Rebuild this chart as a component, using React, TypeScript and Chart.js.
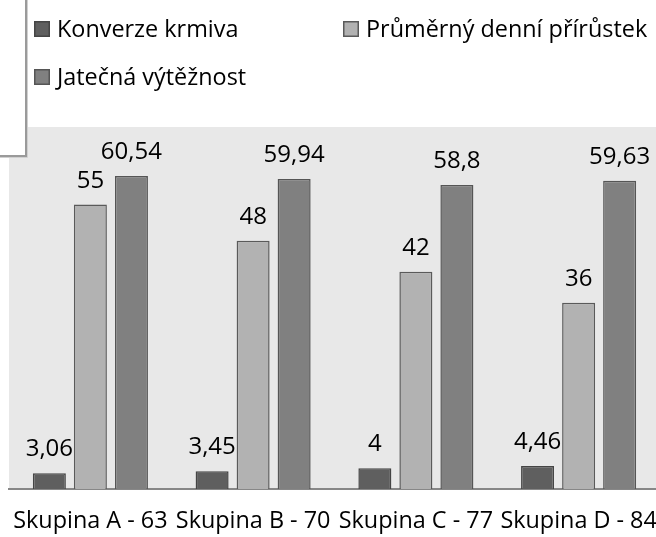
import React, { useEffect, useRef } from "react";
import { Chart, registerables } from "chart.js";

Chart.register(...registerables);

const categories = ["Skupina A - 63", "Skupina B - 70", "Skupina C - 77", "Skupina D - 84"];
const seriesNames = ["Konverze krmiva", "Průměrný denní přírůstek", "Jatečná výtěžnost"];
const konverzeKrmiva = [3.06, 3.45, 4, 4.46];
const denniPrirustek = [55, 48, 42, 36];
const jatecnaVyteznost = [60.54, 59.94, 58.8, 59.63];
const fills = ["#5f5f5f", "#b2b2b2", "#808080"];
const borders = ["#454545", "#5a5a5a", "#555555"];

const FONT = "'Open Sans', sans-serif";
const FS = 24;
const FS_TEXT = 23.4;

const fmt = (v: number) => String(v).replace(".", ",");

const decorPlugin = {
  id: "decor",
  beforeDraw(chart: any) {
    const { ctx, chartArea } = chart;
    ctx.save();
    ctx.fillStyle = "#e8e8e8";
    ctx.fillRect(chartArea.left, chartArea.top, chartArea.right - chartArea.left, chartArea.bottom - chartArea.top);
    ctx.restore();
  },
  afterDatasetsDraw(chart: any) {
    const { ctx } = chart;
    ctx.save();
    ctx.font = `${FS}px ${FONT}`;
    ctx.fillStyle = "#000";
    ctx.textAlign = "center";
    ctx.textBaseline = "alphabetic";
    chart.data.datasets.forEach((ds: any, i: number) => {
      const meta = chart.getDatasetMeta(i);
      meta.data.forEach((bar: any, j: number) => {
        ctx.fillText(fmt(ds.data[j]), bar.x, bar.y - 17);
      });
    });
    ctx.restore();
  },
  afterDraw(chart: any) {
    const { ctx } = chart;
    ctx.save();
    // legend frame (partially visible)
    ctx.fillStyle = "#ffffff";
    ctx.fillRect(0, 0, 26, 155);
    ctx.strokeStyle = "#d0d0d0";
    ctx.lineWidth = 1;
    ctx.beginPath();
    ctx.moveTo(27.5, 0);
    ctx.lineTo(27.5, 157.5);
    ctx.lineTo(0, 157.5);
    ctx.stroke();
    ctx.strokeStyle = "#9a9a9a";
    ctx.lineWidth = 2;
    ctx.beginPath();
    ctx.moveTo(26, 0);
    ctx.lineTo(26, 156);
    ctx.lineTo(0, 156);
    ctx.stroke();
    // legend items
    const slots = [
      [34, 37],
      [343, 37],
      [34, 85],
    ];
    ctx.font = `${FS_TEXT}px ${FONT}`;
    ctx.textBaseline = "alphabetic";
    ctx.textAlign = "left";
    chart.data.datasets.forEach((ds: any, i: number) => {
      const [x, y] = slots[i];
      ctx.fillStyle = ds.backgroundColor;
      ctx.fillRect(x, y - 16, 16, 16);
      ctx.strokeStyle = ds.borderColor;
      ctx.lineWidth = 1.5;
      ctx.strokeRect(x + 0.75, y - 15.25, 14.5, 14.5);
      ctx.fillStyle = "#000";
      ctx.fillText(ds.label, x + 23, y);
    });
    ctx.restore();
  },
};

export default function App() {
  const ref = useRef<HTMLCanvasElement>(null);
  useEffect(() => {
    if (!ref.current) return;
    const values = [konverzeKrmiva, denniPrirustek, jatecnaVyteznost];
    const chart = new Chart(ref.current, {
      type: "bar",
      data: {
        labels: categories,
        datasets: seriesNames.map((name, i) => ({
          label: name,
          data: values[i],
          backgroundColor: fills[i],
          borderColor: borders[i],
          borderWidth: 1.5,
          borderSkipped: "bottom",
          categoryPercentage: 0.756,
          barPercentage: 0.805,
        })),
      },
      options: {
        responsive: false,
        animation: false,
        devicePixelRatio: 1,
        layout: { padding: { left: 9, right: 0, top: 127, bottom: 0 } },
        plugins: {
          legend: { display: false },
          tooltip: { enabled: false },
        },
        scales: {
          x: {
            grid: { display: false, drawTicks: false },
            border: { display: true, color: "#878787", width: 2 },
            ticks: {
              color: "#000",
              font: { family: FONT, size: FS_TEXT },
              padding: 18,
              autoSkip: false,
              maxRotation: 0,
              minRotation: 0,
            },
            afterFit: (scale: any) => {
              scale.paddingLeft = 0;
              scale.paddingRight = 0;
              scale.paddingTop = 0;
              scale.paddingBottom = 0;
              scale.height = 48;
            },
          },
          y: {
            display: false,
            min: 0,
            max: 70,
          },
        },
      },
      plugins: [decorPlugin],
    });
    return () => chart.destroy();
  }, []);
  return (
    <div>
      <canvas
        ref={ref}
        width={660}
        height={537}
        style={{ position: "fixed", left: 0, top: 0, width: 660, height: 537 }}
      />
    </div>
  );
}
